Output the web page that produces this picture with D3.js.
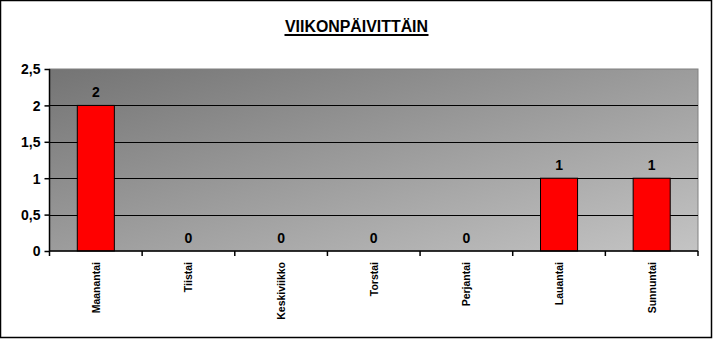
<!DOCTYPE html>
<html>
<head>
<meta charset="utf-8">
<script src="https://cdn.jsdelivr.net/npm/d3@7"></script>
<style>
body{margin:0;background:#fff}
text{font-family:Arial,"Liberation Sans",sans-serif;font-weight:bold;fill:#000}
</style>
</head>
<body>
<script>
// weekday counts
var days=['Maanantai','Tiistai','Keskiviikko','Torstai','Perjantai','Lauantai','Sunnuntai']
var counts=[2,0,0,0,0,1,1]
var yTicks=[0,0.5,1,1.5,2,2.5]
var title='VIIKONPÄIVITTÄIN'

var W=713,H=339
var pLeft=49.5,pRight=698,pTop=69,pBottom=251

var svg=d3.select('body').append('svg').attr('width',W).attr('height',H)

svg.append('rect').attr('x',0.5).attr('y',0.5).attr('width',W-2).attr('height',H-2)
  .attr('fill','#fff').attr('stroke','#000').attr('stroke-width',1.5)

var grad=svg.append('defs').append('linearGradient').attr('id','bg')
  .attr('x1','0%').attr('y1','0%').attr('x2','100%').attr('y2','100%')
grad.append('stop').attr('offset','0%').attr('stop-color','#747474')
grad.append('stop').attr('offset','100%').attr('stop-color','#c4c4c4')

var x=d3.scaleBand().domain(days).range([pLeft,pRight]).paddingInner(0.6).paddingOuter(0.3)
var xb=d3.scaleBand().domain(days).range([pLeft,pRight])
var y=d3.scaleLinear().domain([0,2.5]).range([pBottom,pTop])

// plot area
svg.append('rect').attr('x',pLeft).attr('y',pTop).attr('width',pRight-pLeft).attr('height',pBottom-pTop)
  .attr('fill','url(#bg)').attr('stroke','#808080').attr('stroke-width',1)

// gridlines
svg.append('g').selectAll('line').data(yTicks.slice(1,-1)).join('line')
  .attr('x1',pLeft).attr('x2',pRight)
  .attr('y1',d=>Math.round(y(d))+0.5).attr('y2',d=>Math.round(y(d))+0.5)
  .attr('stroke','#000')

// bars
svg.append('g').selectAll('rect').data(counts).join('rect')
  .attr('x',(d,i)=>x(days[i])).attr('width',x.bandwidth())
  .attr('y',d=>y(d)).attr('height',d=>pBottom-y(d))
  .attr('fill','#ff0000').attr('stroke','#000').attr('stroke-width',1)

// value labels
svg.append('g').selectAll('text').data(counts).join('text')
  .attr('x',(d,i)=>x(days[i])+x.bandwidth()/2).attr('y',d=>y(d)-8)
  .attr('text-anchor','middle').style('font-size','14px').text(d=>d)

// y axis
var yAxis=d3.axisLeft(y).tickValues(yTicks).tickSize(5).tickFormat(d=>String(d).replace('.',','))
var gy=svg.append('g').attr('transform','translate('+pLeft+',0)').call(yAxis)
gy.selectAll('text').style('font-size','14px').style('font-weight','bold').attr('x',-9).attr('dy','0.35em')
gy.selectAll('line,path').attr('stroke','#000').attr('stroke-width',1.5)
gy.select('.domain').attr('d','M0,'+pTop+'V'+pBottom)

// x axis
svg.append('line').attr('x1',pLeft).attr('x2',pRight).attr('y1',pBottom).attr('y2',pBottom)
  .attr('stroke','#000').attr('stroke-width',1.5)
svg.append('g').selectAll('line').data(days.concat(['end'])).join('line')
  .attr('x1',(d,i)=>i<days.length?xb(d):pRight).attr('x2',(d,i)=>i<days.length?xb(d):pRight)
  .attr('y1',pBottom).attr('y2',pBottom+5).attr('stroke','#000').attr('stroke-width',1.5)

svg.append('g').selectAll('text').data(days).join('text')
  .attr('transform',d=>'translate('+(xb(d)+xb.bandwidth()/2+4)+','+262+') rotate(-90)')
  .attr('text-anchor','end').style('font-size','10.5px').text(d=>d)

// title
svg.append('text').attr('x',W/2).attr('y',32).attr('text-anchor','middle')
  .style('font-family','"Liberation Sans Narrow","Arial Narrow",Arial,sans-serif')
  .style('font-size','16px').attr('textLength',143).attr('lengthAdjust','spacingAndGlyphs')
  .text(title)
svg.append('line').attr('x1',W/2-72).attr('x2',W/2+72).attr('y1',35).attr('y2',35)
  .attr('stroke','#000').attr('stroke-width',2)
</script>
</body>
</html>
